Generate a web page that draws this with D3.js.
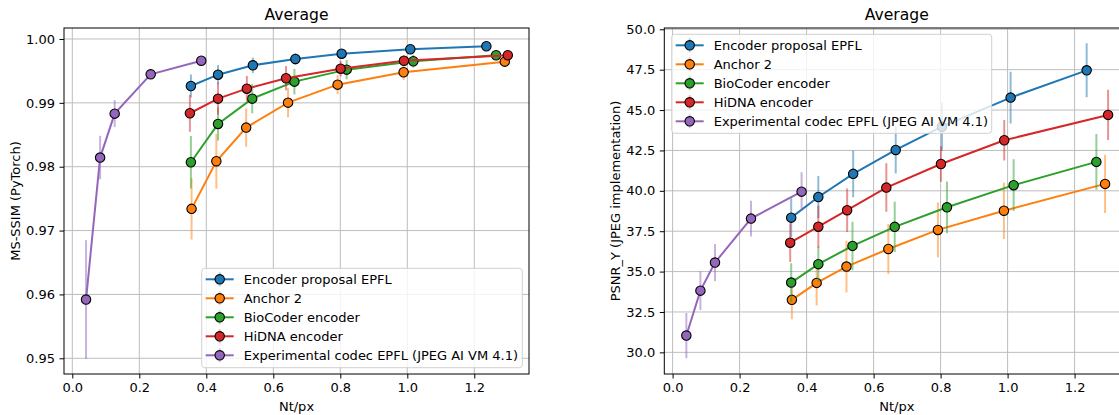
<!DOCTYPE html>
<html>
<head>
<meta charset="utf-8">
<script src="https://cdn.jsdelivr.net/npm/d3@7"></script>
<style>
  html, body { margin: 0; padding: 0; background: #fff; }
  svg { display: block; font-family: "DejaVu Sans", sans-serif; }
</style>
</head>
<body>
<svg id="chart" width="1119" height="415"></svg>
<script>
// ---------------- DATA ----------------
const seriesNames = ["Encoder proposal EPFL", "Anchor 2", "BioCoder encoder", "HiDNA encoder", "Experimental codec EPFL (JPEG AI VM 4.1)"];
const seriesColors = ["#1f77b4", "#ff7f0e", "#2ca02c", "#d62728", "#9467bd"];

const rateProposal = [0.354, 0.435, 0.539, 0.666, 0.804, 1.009, 1.236];
const msssimProposal = [0.99264, 0.99441, 0.99588, 0.99687, 0.99770, 0.99839, 0.99886];
const msssimErrProposal = [0.0018, 0.0015, 0.0012, 0.0009, 0.0007, 0.0005, 0.0004];
const psnrProposal = [38.34, 39.62, 41.05, 42.53, 43.97, 45.77, 47.46];
const psnrErrProposal = [1.2, 1.3, 1.45, 1.45, 1.5, 1.6, 1.67];

const rateAnchor = [0.356, 0.430, 0.519, 0.644, 0.792, 0.989, 1.291];
const msssimAnchor = [0.97340, 0.98086, 0.98612, 0.99003, 0.99285, 0.99479, 0.99645];
const msssimErrAnchor = [0.0048, 0.0043, 0.0030, 0.0023, 0.0015, 0.0012, 0.0008];
const psnrAnchor = [33.25, 34.30, 35.31, 36.40, 37.58, 38.77, 40.43];
const psnrErrAnchor = [1.2, 1.4, 1.6, 1.55, 1.7, 1.75, 1.8];

const rateBio = [0.354, 0.435, 0.537, 0.663, 0.819, 1.018, 1.265];
const msssimBio = [0.98070, 0.98670, 0.99066, 0.99332, 0.99520, 0.99651, 0.99745];
const msssimErrBio = [0.0041, 0.0026, 0.0023, 0.0020, 0.0015, 0.0010, 0.0007];
const psnrBio = [34.32, 35.46, 36.59, 37.77, 38.98, 40.35, 41.79];
const psnrErrBio = [1.2, 1.1, 1.5, 1.55, 1.6, 1.6, 1.73];

const rateHiDNA = [0.351, 0.435, 0.521, 0.638, 0.801, 0.990, 1.300];
const msssimHiDNA = [0.98837, 0.99066, 0.99222, 0.99385, 0.99535, 0.99660, 0.99745];
const msssimErrHiDNA = [0.0029, 0.0025, 0.0020, 0.0019, 0.0012, 0.0008, 0.0006];
const psnrHiDNA = [36.79, 37.78, 38.80, 40.20, 41.66, 43.13, 44.70];
const psnrErrHiDNA = [1.2, 1.3, 1.35, 1.5, 1.1, 1.25, 1.55];

const rateExp = [0.041, 0.083, 0.1265, 0.234, 0.385];
const msssimExp = [0.95920, 0.98143, 0.98831, 0.99447, 0.99660];
const msssimErrExp = [0.0093, 0.0034, 0.0021, 0.0006, 0.0003];
const psnrExp = [31.04, 33.82, 35.56, 38.28, 39.95];
const psnrErrExp = [1.4, 1.2, 1.15, 1.1, 1.2];

const xTicks = [0.0, 0.2, 0.4, 0.6, 0.8, 1.0, 1.2];
const msssimTicks = [0.95, 0.96, 0.97, 0.98, 0.99, 1.00];
const psnrTicks = [30.0, 32.5, 35.0, 37.5, 40.0, 42.5, 45.0, 47.5, 50.0];

const chartTitle = "Average";
const xLabel = "Nt/px";
const msssimLabel = "MS-SSIM (PyTorch)";
const psnrLabel = "PSNR_Y (JPEG implementation)";

const rates = [rateProposal, rateAnchor, rateBio, rateHiDNA, rateExp];
const msssimVals = [msssimProposal, msssimAnchor, msssimBio, msssimHiDNA, msssimExp];
const msssimErrs = [msssimErrProposal, msssimErrAnchor, msssimErrBio, msssimErrHiDNA, msssimErrExp];
const psnrVals = [psnrProposal, psnrAnchor, psnrBio, psnrHiDNA, psnrExp];
const psnrErrs = [psnrErrProposal, psnrErrAnchor, psnrErrBio, psnrErrHiDNA, psnrErrExp];

// ---------------- DRAW ----------------
const svg = d3.select("#chart");
const FS = 13;

function panel(opts) {
  const {left, top, width, height, xDomain, yDomain, yTicks, yFmt, yVals, yErrs, ylabel, legend} = opts;
  const g = svg.append("g").attr("transform", `translate(${left},${top})`);
  const x = d3.scaleLinear().domain(xDomain).range([0, width]);
  const y = d3.scaleLinear().domain(yDomain).range([height, 0]);

  // grid
  g.append("g").selectAll("line").data(xTicks).join("line")
    .attr("x1", d => x(d)).attr("x2", d => x(d)).attr("y1", 0).attr("y2", height)
    .attr("stroke", "#bdbdbd").attr("stroke-width", 1);
  g.append("g").selectAll("line").data(yTicks).join("line")
    .attr("y1", d => y(d)).attr("y2", d => y(d)).attr("x1", 0).attr("x2", width)
    .attr("stroke", "#bdbdbd").attr("stroke-width", 1);

  // axes
  const xAxis = g.append("g").attr("transform", `translate(0,${height})`)
    .call(d3.axisBottom(x).tickValues(xTicks).tickFormat(d3.format(".1f")).tickSizeOuter(0).tickSize(4.5).tickPadding(4.5));
  const yAxis = g.append("g")
    .call(d3.axisLeft(y).tickValues(yTicks).tickFormat(yFmt).tickSizeOuter(0).tickSize(4.5).tickPadding(4.5));
  [xAxis, yAxis].forEach(a => {
    a.select(".domain").remove();
    a.selectAll("text").attr("font-size", FS).attr("font-family", "DejaVu Sans").attr("fill", "#000");
    a.selectAll("line").attr("stroke", "#000").attr("stroke-width", 1);
  });

  const clipId = "clip" + Math.round(left);
  g.append("clipPath").attr("id", clipId).append("rect").attr("width", width).attr("height", height);
  const plot = g.append("g").attr("clip-path", `url(#${clipId})`);

  const line = d3.line().x(d => x(d[0])).y(d => y(d[1]));
  for (let s = 0; s < seriesNames.length; s++) {
    const pts = rates[s].map((r, i) => [r, yVals[s][i], yErrs[s][i]]);
    const sg = plot.append("g");
    sg.selectAll("line.err").data(pts).join("line").attr("class", "err")
      .attr("x1", d => x(d[0])).attr("x2", d => x(d[0]))
      .attr("y1", d => y(d[1] - d[2])).attr("y2", d => y(d[1] + d[2]))
      .attr("stroke", seriesColors[s]).attr("stroke-opacity", 0.5).attr("stroke-width", 2);
    sg.append("path").attr("d", line(pts)).attr("fill", "none")
      .attr("stroke", seriesColors[s]).attr("stroke-width", 2);
    sg.selectAll("circle").data(pts).join("circle")
      .attr("cx", d => x(d[0])).attr("cy", d => y(d[1])).attr("r", 4.7)
      .attr("fill", seriesColors[s]).attr("stroke", "#000").attr("stroke-width", 1.1);
  }

  // spines
  g.append("rect").attr("width", width).attr("height", height)
    .attr("fill", "none").attr("stroke", "#000").attr("stroke-width", 1);

  // title & labels
  g.append("text").attr("x", width / 2).attr("y", -8).attr("text-anchor", "middle")
    .attr("font-size", 15.6).text(chartTitle);
  g.append("text").attr("x", width / 2).attr("y", height + 37).attr("text-anchor", "middle")
    .attr("font-size", FS).text(xLabel);
  g.append("text").attr("transform", `translate(${opts.ylabelX - left},${height / 2}) rotate(-90)`)
    .attr("text-anchor", "middle").attr("dominant-baseline", "central")
    .attr("font-size", FS).text(ylabel);

  // legend
  const lg = g.append("g").attr("transform", `translate(${legend.x - left},${legend.y - top})`);
  lg.append("rect").attr("width", legend.w).attr("height", legend.h).attr("rx", 3)
    .attr("fill", "#fff").attr("fill-opacity", 0.8).attr("stroke", "#d0d0d0").attr("stroke-width", 1);
  seriesNames.forEach((name, i) => {
    const cy = 11 + i * 19;
    const hx = 4;
    lg.append("line").attr("x1", hx + 14).attr("x2", hx + 14).attr("y1", cy - 7).attr("y2", cy + 7)
      .attr("stroke", seriesColors[i]).attr("stroke-opacity", 0.35).attr("stroke-width", 2);
    lg.append("line").attr("x1", hx).attr("x2", hx + 28).attr("y1", cy).attr("y2", cy)
      .attr("stroke", seriesColors[i]).attr("stroke-width", 2);
    lg.append("circle").attr("cx", hx + 14).attr("cy", cy).attr("r", 4.7)
      .attr("fill", seriesColors[i]).attr("stroke", "#000").attr("stroke-width", 1.1);
    lg.append("text").attr("x", hx + 38).attr("y", cy).attr("dominant-baseline", "central")
      .attr("font-size", FS).text(name);
  });
}

const W = 465, H = 346, TOP = 28;
const xDomain = [-0.0248, 1.3633];

panel({
  left: 64, top: TOP, width: W, height: H, xDomain,
  yDomain: [0.94754, 1.00172], yTicks: msssimTicks, yFmt: d3.format(".2f"),
  yVals: msssimVals, yErrs: msssimErrs, ylabel: msssimLabel, ylabelX: 15,
  legend: {x: 201.7, y: 268.3, w: 320.6, h: 99.4}
});

panel({
  left: 664.3, top: TOP, width: W, height: H, xDomain,
  yDomain: [28.66, 50.08], yTicks: psnrTicks, yFmt: d3.format(".1f"),
  yVals: psnrVals, yErrs: psnrErrs, ylabel: psnrLabel, ylabelX: 615,
  legend: {x: 671.7, y: 34.3, w: 320, h: 99}
});
</script>
</body>
</html>
